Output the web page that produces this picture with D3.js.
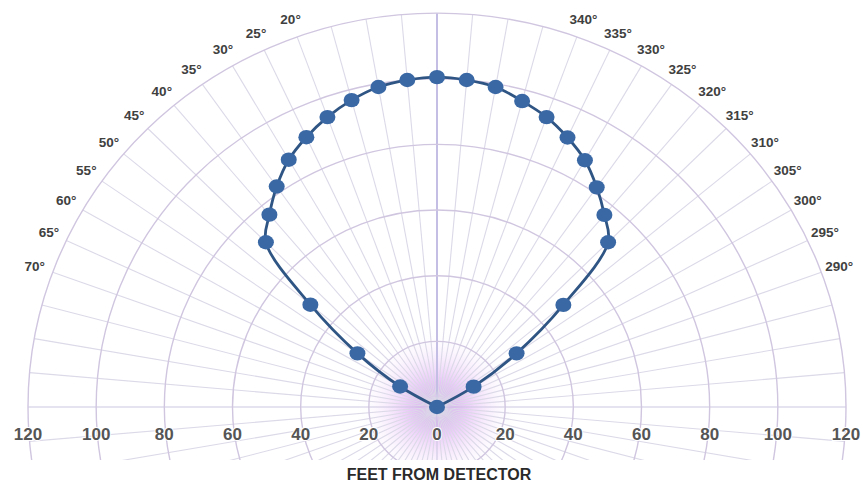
<!DOCTYPE html>
<html>
<head>
<meta charset="utf-8">
<script src="https://cdn.jsdelivr.net/npm/d3@7"></script>
<style>
  html, body { margin: 0; padding: 0; background: #ffffff; }
  svg { display: block; }
</style>
</head>
<body>
<svg id="chart" width="866" height="485"></svg>
<script>
// ---------------- data ----------------
// detection pattern: angle (degrees, 0 = straight ahead, counter-clockwise to the left) and distance in feet
const pointAngles = [0, 60, 55, 50, 45, 40, 35, 30, 25, 20, 15, 10, 5, 0, 355, 350, 345, 340, 335, 330, 325, 320, 315, 310, 305, 300];
const pointFeet   = [0, 12.5, 28.5, 48.5, 71, 76.5, 82, 87, 90.7, 94, 96.8, 99, 100, 100.5, 100, 99, 96.5, 94, 90.6, 86.8, 81.7, 76.4, 71, 48.4, 28.5, 12.4];

const ringFeet = [20, 40, 60, 80, 100, 120];
const xTickFeet = [-120, -100, -80, -60, -40, -20, 0, 20, 40, 60, 80, 100, 120];
const xTickLabels = ["120", "100", "80", "60", "40", "20", "0", "20", "40", "60", "80", "100", "120"];
const angleTickValues = [20, 25, 30, 35, 40, 45, 50, 55, 60, 65, 70, 290, 295, 300, 305, 310, 315, 320, 325, 330, 335, 340];
const axisTitle = "FEET FROM DETECTOR";

// ---------------- layout ----------------
const svg = d3.select("#chart");
const cx = 437, cy = 407;
const k = 0.963;              // slight vertical squash of the polar grid
const clipBottom = 460;

const r = d3.scaleLinear().domain([0, 120]).range([0, 409]);
const xAxisScale = d3.scaleLinear().domain([-120, 120]).range([cx - r(120), cx + r(120)]);

function px(angleDeg, feet) {
  const a = angleDeg * Math.PI / 180;
  return cx - r(feet) * Math.sin(a);
}
function py(angleDeg, feet) {
  const a = angleDeg * Math.PI / 180;
  return cy - r(feet) * Math.cos(a) * k;
}

const defs = svg.append("defs");
defs.append("clipPath").attr("id", "gridClip")
  .append("rect").attr("x", 0).attr("y", 0).attr("width", 866).attr("height", clipBottom);

const glow = defs.append("radialGradient").attr("id", "glow")
  .attr("cx", "50%").attr("cy", "50%").attr("r", "50%");
glow.append("stop").attr("offset", "0%").attr("stop-color", "#c468ea").attr("stop-opacity", 0.95);
glow.append("stop").attr("offset", "25%").attr("stop-color", "#d592f2").attr("stop-opacity", 0.65);
glow.append("stop").attr("offset", "60%").attr("stop-color", "#e9c6f8").attr("stop-opacity", 0.35);
glow.append("stop").attr("offset", "100%").attr("stop-color", "#ffffff").attr("stop-opacity", 0);

const grid = svg.append("g").attr("clip-path", "url(#gridClip)");

// center glow
grid.append("ellipse")
  .attr("cx", cx).attr("cy", cy)
  .attr("rx", r(24)).attr("ry", r(24) * k)
  .attr("fill", "url(#glow)");

// radial lines every 5 degrees
const spokes = d3.range(0, 360, 5);
grid.selectAll("line.spoke").data(spokes).join("line")
  .attr("class", "spoke")
  .attr("x1", cx).attr("y1", cy)
  .attr("x2", d => px(d, 120)).attr("y2", d => py(d, 120))
  .attr("stroke", d => (d === 0) ? "#c4bde4" : (d % 90 === 0 ? "#cdc8e2" : "#dcd9e8"))
  .attr("stroke-width", d => (d === 0) ? 2 : 1.1);

// rings
grid.selectAll("ellipse.ring").data(ringFeet).join("ellipse")
  .attr("class", "ring")
  .attr("cx", cx).attr("cy", cy)
  .attr("rx", d => r(d)).attr("ry", d => r(d) * k)
  .attr("fill", "none")
  .attr("stroke", "#d0c6e0")
  .attr("stroke-width", 1.4);

// angle labels
svg.append("g").selectAll("text").data(angleTickValues).join("text")
  .attr("x", d => px(d, 125.6))
  .attr("y", d => py(d, 125.6))
  .attr("text-anchor", "middle")
  .attr("dominant-baseline", "central")
  .attr("font-family", "Liberation Sans, Arial, sans-serif")
  .attr("font-size", 13.5)
  .attr("font-weight", "bold")
  .attr("fill", "#404040")
  .text(d => d + "°");

// x-axis distance labels
svg.append("g").selectAll("text").data(xTickFeet).join("text")
  .attr("x", d => xAxisScale(d))
  .attr("y", 440)
  .attr("text-anchor", "middle")
  .attr("font-family", "Liberation Sans, Arial, sans-serif")
  .attr("font-size", 17)
  .attr("font-weight", "bold")
  .attr("fill", "#555555")
  .attr("stroke", "#ffffff").attr("stroke-width", 2).attr("paint-order", "stroke")
  .text((d, i) => xTickLabels[i]);

svg.append("text")
  .attr("x", 439).attr("y", 480)
  .attr("text-anchor", "middle")
  .attr("font-family", "Liberation Sans, Arial, sans-serif")
  .attr("font-size", 16)
  .attr("font-weight", "bold")
  .attr("fill", "#2a2a2a")
  .text(axisTitle);

// pattern line and points
const pts = pointAngles.map((a, i) => ({ a: a, f: pointFeet[i] }));
const linePts = pts.concat([pts[0]]);
const line = d3.line()
  .x(d => px(d.a, d.f))
  .y(d => py(d.a, d.f))
  .curve(d3.curveCatmullRom.alpha(0.5));

svg.append("path")
  .datum(linePts)
  .attr("d", line)
  .attr("fill", "none")
  .attr("stroke", "#2f5584")
  .attr("stroke-width", 2.8);

svg.append("g").selectAll("ellipse").data(pts).join("ellipse")
  .attr("cx", d => px(d.a, d.f))
  .attr("cy", d => py(d.a, d.f))
  .attr("rx", 8).attr("ry", 7.2)
  .attr("fill", "#3a68a5");
</script>
</body>
</html>
